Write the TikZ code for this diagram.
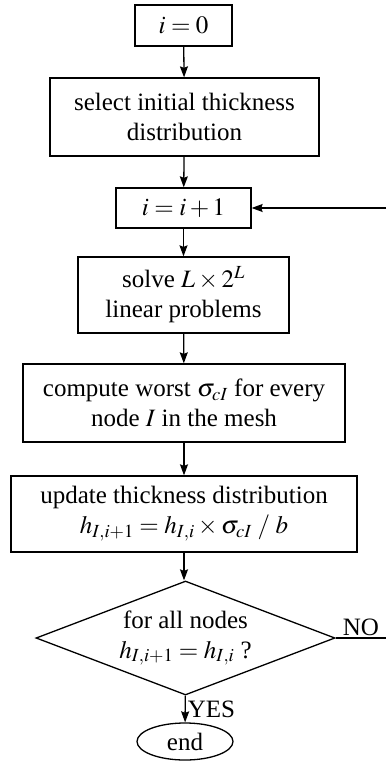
\documentclass[tikz,border=0pt]{standalone}
\usepackage{mathptmx}
\usepackage[no-math]{fontspec}
\setmainfont{Liberation Serif}
\usetikzlibrary{arrows.meta, shapes.geometric}

\begin{document}
\begin{tikzpicture}[
  x=1pt, y=-1pt,
  font=\fontsize{25}{30}\selectfont,
  box/.style={rectangle, draw=black, line width=1.3pt, align=center,
              inner sep=0pt},
  decision/.style={diamond, draw=black, line width=1.3pt, align=center,
                   aspect=2.62, inner sep=0pt},
  terminal/.style={ellipse, draw=black, line width=1.3pt, inner sep=0pt},
  arrow/.style={-{Stealth[length=11pt, width=8pt, inset=1.5pt]}, line width=1.3pt},
  wire/.style={line width=1.3pt}
]
\useasboundingbox (0,0) rectangle (386,762);

% main column of steps
\node[box, minimum width=97pt, minimum height=41pt] (start) at (183.5,25.5) {$i=0$};
\node[box, minimum width=269pt, minimum height=78pt] (select) at (184.5,117)
  {select initial thickness\\distribution};
\node[box, minimum width=135pt, minimum height=40pt] (incr) at (183.5,208) {$i=i+1$};
\node[box, minimum width=211pt, minimum height=76pt] (solve) at (183.5,295)
  {solve $L\times 2^{L}$\\linear problems};
\node[box, minimum width=322pt, minimum height=78pt] (worst) at (184,403)
  {compute worst $\sigma_{cI}$ for every\\node $I$ in the mesh};
\node[box, minimum width=346pt, minimum height=76pt] (update) at (184,514)
  {update thickness distribution\\$h_{I,i+1}=h_{I,i}\times\sigma_{cI}\;/\;b$};

% convergence test and end
\node[decision, minimum width=299pt, minimum height=114pt] (conv) at (185.5,638)
  {for all nodes\\$h_{I,i+1}=h_{I,i}$ ?};
\node[terminal, minimum width=96pt, minimum height=37pt] (finish) at (185,741.5) {end};

% free ends of the loop at the right border
\coordinate (noend) at (386,638);
\coordinate (back) at (386,208);

% arrows
\draw[arrow] (start) -- (select);
\draw[arrow] (select) -- (incr);
\draw[arrow] (incr) -- (solve);
\draw[arrow] (solve) -- (worst);
\draw[arrow] (worst) -- (update);
\draw[arrow] (update.south) -- (update.south |- conv.north);
\draw[arrow] (conv) -- node[right, inner sep=2pt]{YES} (finish);

% loop back
\draw[wire] (conv.east) -- node[above, inner sep=2pt]{NO} (noend);
\draw[arrow] (back) -- (incr.east);

\end{tikzpicture}
\end{document}
